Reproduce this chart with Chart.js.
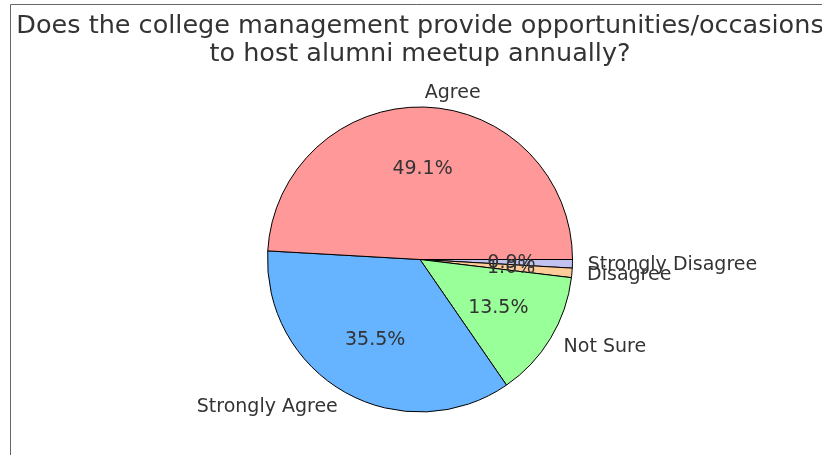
<!DOCTYPE html>
<html>
<head>
<meta charset="utf-8">
<script src="https://cdn.jsdelivr.net/npm/chart.js@4.4.0/dist/chart.umd.min.js"></script>
<style>
  html, body { margin: 0; padding: 0; background: #fff; }
  #wrap { width: 822px; height: 455px; }
</style>
</head>
<body>
<div id="wrap"><canvas id="pieChart" width="822" height="455"></canvas></div>
<script>
// data, in matplotlib order (counter-clockwise from 3 o'clock)
const categories = ['Agree', 'Strongly Agree', 'Not Sure', 'Disagree', 'Strongly Disagree'];
const shares = [49.1, 35.5, 13.5, 1.0, 0.9];
const sliceColors = ['#ff9999', '#66b3ff', '#99ff99', '#ffcc99', '#c2c2f0'];
const titleLines = ['Does the college management provide opportunities/occasions', 'to host alumni meetup annually?'];

// chart.js goes clockwise, so feed it reversed and start at 3 o'clock
const labels = categories.slice().reverse();
const values = shares.slice().reverse();
const colors = sliceColors.slice().reverse();

const textColor = '#333333';
const fontFamily = "'DejaVu Sans', sans-serif";

const framePlugin = {
    id: 'frame',
    beforeDraw(chart) {
        const ctx = chart.ctx;
        ctx.save();
        ctx.fillStyle = '#fff';
        ctx.fillRect(0, 0, chart.width, chart.height);
        ctx.strokeStyle = '#666';
        ctx.lineWidth = 1;
        ctx.beginPath();
        ctx.moveTo(10.5, chart.height + 2);
        ctx.lineTo(10.5, 4.5);
        ctx.lineTo(chart.width + 2, 4.5);
        ctx.stroke();
        ctx.restore();
    }
};

const textPlugin = {
    id: 'pieText',
    afterDraw(chart) {
        const ctx = chart.ctx;
        const arcs = chart.getDatasetMeta(0).data;
        const data = chart.data.datasets[0].data;
        const total = data.reduce((a, b) => a + b, 0);
        ctx.save();
        ctx.fillStyle = textColor;

        // title
        ctx.font = '25.5px ' + fontFamily;
        ctx.textAlign = 'center';
        ctx.textBaseline = 'alphabetic';
        ctx.fillText(titleLines[0], 420, 33);
        ctx.fillText(titleLines[1], 420, 61);

        ctx.font = '19px ' + fontFamily;
        ctx.textBaseline = 'middle';
        arcs.forEach((arc, i) => {
            const mid = (arc.startAngle + arc.endAngle) / 2;
            const r = arc.outerRadius;
            // category label at 1.1 r
            const lx = arc.x + Math.cos(mid) * r * 1.1;
            const ly = arc.y + Math.sin(mid) * r * 1.1;
            ctx.textAlign = lx > arc.x ? 'left' : 'right';
            ctx.fillText(chart.data.labels[i], lx, ly + 1);
            // percentage at 0.6 r
            const px = arc.x + Math.cos(mid) * r * 0.6;
            const py = arc.y + Math.sin(mid) * r * 0.6;
            ctx.textAlign = 'center';
            ctx.fillText((data[i] / total * 100).toFixed(1) + '%', px, py + 1);
        });
        ctx.restore();
    }
};

new Chart(document.getElementById('pieChart'), {
    type: 'pie',
    data: {
        labels: labels,
        datasets: [{
            data: values,
            backgroundColor: colors,
            borderColor: '#000',
            borderWidth: 1
        }]
    },
    options: {
        responsive: false,
        animation: false,
        rotation: 90,
        layout: {
            padding: { left: 267, right: 249, top: 106, bottom: 42 }
        },
        plugins: {
            legend: { display: false },
            tooltip: { enabled: false },
            title: { display: false }
        }
    },
    plugins: [framePlugin, textPlugin]
});
</script>
</body>
</html>
